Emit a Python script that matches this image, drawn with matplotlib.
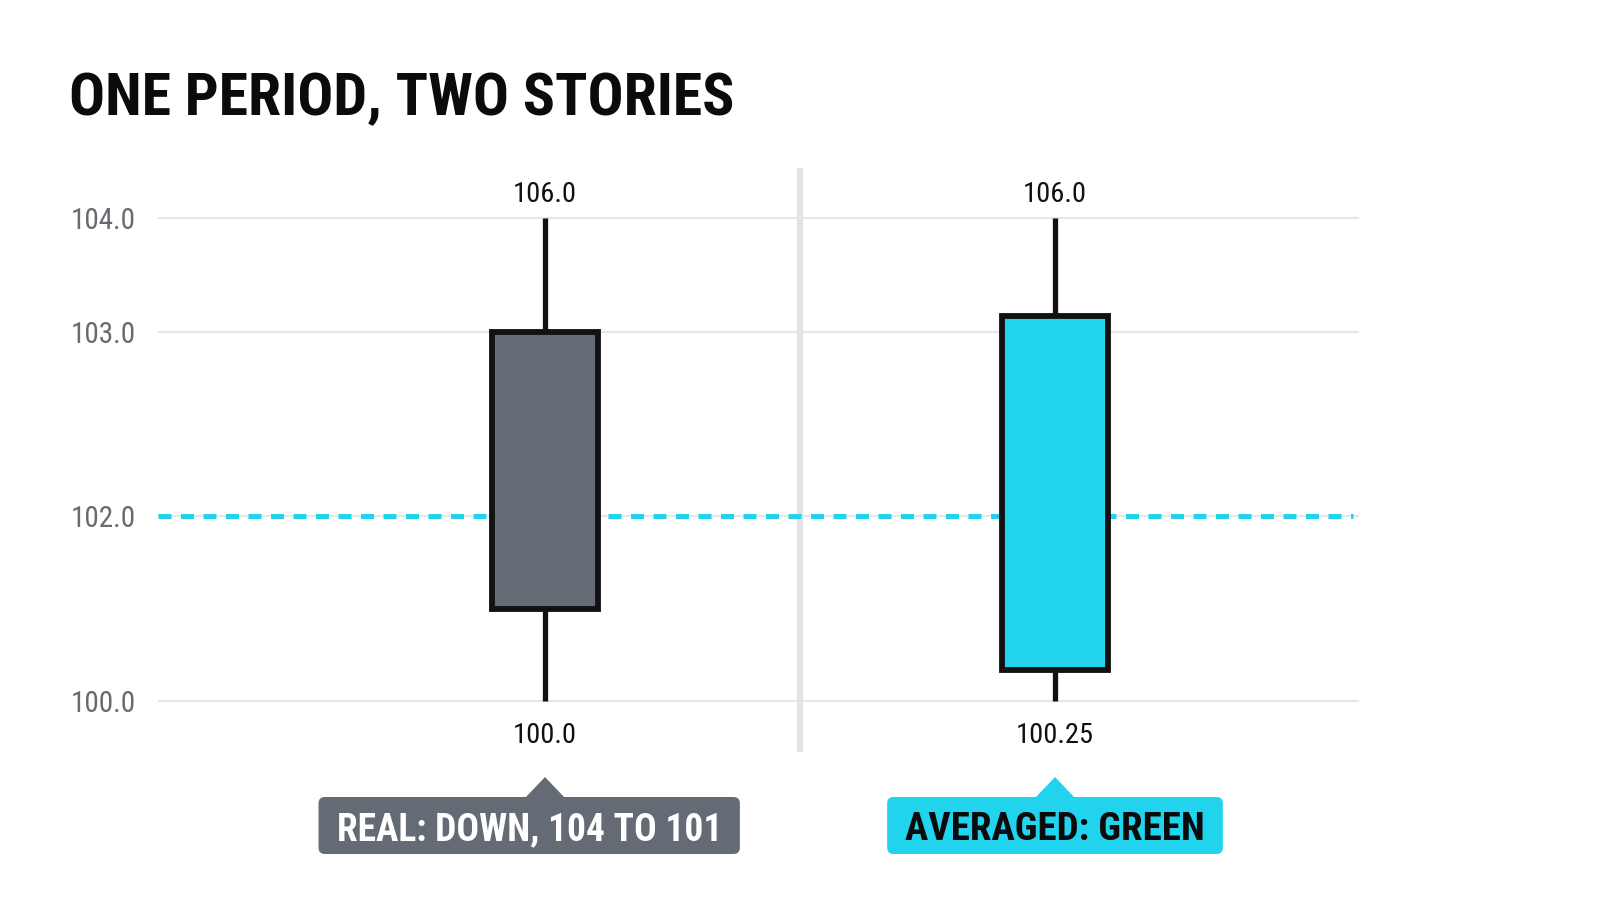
import numpy as np
import matplotlib
matplotlib.use("Agg")
import matplotlib.pyplot as plt
from matplotlib import font_manager as fm
from matplotlib.patches import FancyBboxPatch, Polygon
from matplotlib.transforms import blended_transform_factory

# ---------------- data ----------------
title = "ONE PERIOD, TWO STORIES"
candle_names = ["REAL", "AVERAGED"]
opens = [103.0, 100.34]
closes = [101.0, 103.14]
highs = [104.0, 104.0]
lows = [100.0, 100.0]
high_labels = ["106.0", "106.0"]
low_labels = ["100.0", "100.25"]
callouts = ["REAL: DOWN, 104 TO 101", "AVERAGED: GREEN"]
reference_level = 102.0
y_ticks = [100.0, 102.0, 103.0, 104.0]

# the reference uses an uneven value axis: value knots -> pixel distance
axis_values = [100.0, 102.0, 103.0, 104.0]
axis_pixels = [0.0, 184.7, 369.4, 483.0]

# ---------------- style ----------------
GRAY = "#646b75"
CYAN = "#22d3ee"
EDGE = "#111111"
fills = [GRAY, CYAN]
callout_text_colors = ["white", "#0b0b0b"]
callout_sizes = [27, 28]
callout_dx = [-0.031, 0.0]

avail = {f.name for f in fm.fontManager.ttflist}
def pick(*names):
    for n in names:
        if n in avail:
            return n
    return "DejaVu Sans"
COND = pick("Roboto Condensed", "Liberation Sans Narrow", "Roboto")
plt.rcParams["font.family"] = [COND, "DejaVu Sans"]

W, H = 1600, 914
fig = plt.figure(figsize=(16, 9.14), dpi=100)
fig.patch.set_facecolor("white")

def fy(px):
    return 1 - px / H

ax_left, ax_right, ax_top, ax_bot = 158, 1359, 168, 752
ax = fig.add_axes([ax_left / W, fy(ax_bot), (ax_right - ax_left) / W, (ax_bot - ax_top) / H])

kv = np.array(axis_values)
kp = np.array(axis_pixels)
s_lo = (kp[1] - kp[0]) / (kv[1] - kv[0])
s_hi = (kp[-1] - kp[-2]) / (kv[-1] - kv[-2])

def fwd(v):
    v = np.asarray(v, dtype=float)
    out = np.interp(v, kv, kp)
    out = np.where(v < kv[0], kp[0] + (v - kv[0]) * s_lo, out)
    out = np.where(v > kv[-1], kp[-1] + (v - kv[-1]) * s_hi, out)
    return out

def inv(p):
    p = np.asarray(p, dtype=float)
    out = np.interp(p, kp, kv)
    out = np.where(p < kp[0], kv[0] + (p - kp[0]) / s_lo, out)
    out = np.where(p > kp[-1], kv[-1] + (p - kp[-1]) / s_hi, out)
    return out

ax.set_yscale("function", functions=(fwd, inv))
ybot = float(inv(-(ax_bot - 701)))
ytop = float(inv((ax_bot - ax_top) - (ax_bot - 701)))
ax.set_ylim(ybot, ytop)

x = np.arange(len(candle_names))
ax.set_xlim(-0.7588, 1.596)

# grid
for t in y_ticks:
    ax.axhline(t, color="#e6e6e6", lw=1.5, zorder=0)
ax.set_yticks(y_ticks)
ax.set_yticklabels([f"{t:.1f}" for t in y_ticks])
ax.tick_params(axis="y", length=0, pad=16, labelsize=21, labelcolor="#676b70")
ax.set_xticks([])
for s in ax.spines.values():
    s.set_visible(False)

# divider
ax.axvline(0.5, color="#e3e3e3", lw=4.5, zorder=0)

# dashed reference level
ax.axhline(reference_level, xmin=0.0, xmax=0.995, color=CYAN, lw=3.6,
           dashes=(2.6, 1.9), zorder=1)

# candles
ax.vlines(x, lows, highs, color=EDGE, lw=3.8, zorder=2)
bottoms = np.minimum(opens, closes)
heights = np.abs(np.array(closes) - np.array(opens))
ax.bar(x, heights, bottom=bottoms, width=0.206, color=fills, edgecolor=EDGE,
       linewidth=4.2, zorder=3)

for i in x:
    ax.annotate(high_labels[i], (x[i], highs[i]), xytext=(0, 11.5),
                textcoords="offset points", ha="center", va="baseline",
                fontsize=20.5, color="#111111")
    ax.annotate(low_labels[i], (x[i], lows[i]), xytext=(0, -30.5),
                textcoords="offset points", ha="center", va="baseline",
                fontsize=20.5, color="#111111")

# title
fig.text(69 / W, fy(115.3), title, ha="left", va="baseline", fontsize=43,
         fontweight="bold", color="#0b0b0b")

# callouts
bt = blended_transform_factory(ax.transData, fig.transFigure)
texts = []
for i in x:
    t = fig.text(0, 0, callouts[i], transform=bt, ha="center", va="baseline",
                 fontsize=callout_sizes[i], fontweight="bold",
                 color=callout_text_colors[i], zorder=5)
    t.set_position((x[i] + callout_dx[i], fy(840)))
    texts.append(t)

fig.canvas.draw()
r = fig.canvas.get_renderer()
for i, t in enumerate(texts):
    ext = t.get_window_extent(r)
    x0 = ext.x0 - 18
    x1 = ext.x1 + 18
    box = FancyBboxPatch((x0 / W, fy(854)), (x1 - x0) / W, 57 / H,
                         boxstyle="round,pad=0,rounding_size=0.004",
                         transform=fig.transFigure, facecolor=fills[i],
                         edgecolor="none", zorder=4,
                         mutation_aspect=W / H)
    fig.add_artist(box)
    half = 20 / 510.0
    tri = Polygon([(x[i] - half, fy(798)), (x[i] + half, fy(798)), (x[i], fy(777))],
                  closed=True, transform=bt, facecolor=fills[i], edgecolor="none",
                  zorder=4)
    fig.add_artist(tri)

fig.savefig("out.png", dpi=100, facecolor="white")
